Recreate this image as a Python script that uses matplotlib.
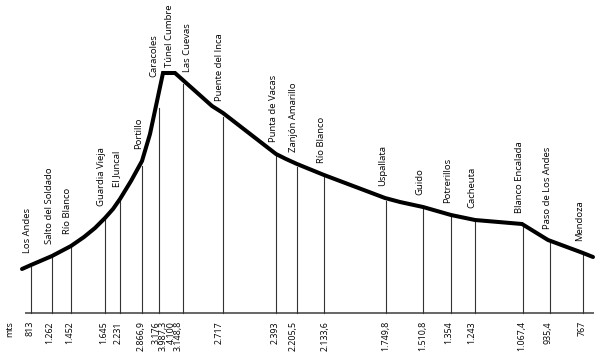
import matplotlib
matplotlib.use("Agg")
import matplotlib.pyplot as plt
import numpy as np

plt.rcParams['font.family'] = ['Open Sans', 'DejaVu Sans']

# profile of the road, in drawing units (x along the route, height above the base line)
profile_x = [22, 31, 52, 71, 84, 95, 105, 113, 120, 131, 142, 150, 163, 175, 212, 223,
             276, 286, 297, 324, 385, 400, 423, 451, 475, 522, 548, 583, 593]
profile_h = [44, 48, 57, 67, 76, 85, 95, 104, 114, 132, 152, 179, 240, 240, 207, 200,
             159, 154, 149, 138, 115, 111, 106, 98, 93, 89, 73, 60, 56]

stations = ["Los Andes", "Salto del Soldado", "Río Blanco", "Guardia Vieja", "El Juncal",
            "Portillo", "Caracoles", "Túnel Cumbre", "Las Cuevas", "Puente del Inca",
            "Punta de Vacas", "Zanjón Amarillo", "Río Blanco", "Uspallata", "Guido",
            "Potrerillos", "Cacheuta", "Blanco Encalada", "Paso de Los Andes", "Mendoza"]
station_x = [31, 52, 71, 105, 120, 142, 159, 169, 183, 223, 276, 297, 324, 386, 423,
             451, 475, 523, 550, 583]
# top of each drop line (None = no line drawn)
drop_top = [46, 56, 67, 94, 112, 147, 205, None, 229, 196, 158, 146, 136, 112, 104,
            96, 92, 86, 70, 58]

altitudes = ["813", "1.262", "1.452", "1.645", "2.231", "2.866,9", "3.176", "3.987,3",
             "4.100", "3.148,8", "2.717", "2.393", "2.205,5", "2.133,6", "1.749,8",
             "1.510,8", "1.354", "1.243", "1.067,4", "935,4", "767"]
altitude_x = [30, 50, 70, 104, 118, 141, 156, 163.5, 171, 178.5, 219, 275, 293, 325, 386,
              423, 449, 472, 522, 548, 582]

# label placement tweaks (dx, bottom) for the crowded summit
label_tweak = {6: (-5, 236), 7: (1, 246), 8: (5, 241)}

fig = plt.figure(figsize=(6.0, 3.61), dpi=100)
ax = fig.add_axes([0, 0, 1, 1])
ax.set_xlim(0, 600)
ax.set_ylim(-48, 313)
ax.axis('off')

ax.plot([25, 594], [0, 0], color='#666666', lw=1.4, solid_capstyle='butt')

for i, (x, top) in enumerate(zip(station_x, drop_top)):
    if top is not None:
        ax.plot([x, x], [0, top], color='#333333', lw=0.8)
    curve = np.interp(x, profile_x, profile_h)
    if i in label_tweak:
        dx, y = label_tweak[i]
    else:
        dx, y = -3, curve + 12
    ax.text(x + dx, y, stations[i], rotation=90, ha='center', va='bottom',
            fontsize=6.8, color='black')

ax.plot(profile_x, profile_h, color='black', lw=2.9, solid_joinstyle='miter',
        solid_capstyle='round')

ax.text(10, -8, "mts", rotation=90, ha='center', va='top', fontsize=6.5, color='black')
for x, a in zip(altitude_x, altitudes):
    ax.text(x, -8, a, rotation=90, ha='center', va='top', fontsize=6.4, color='black')

fig.savefig("out.png", dpi=100, facecolor='white')
